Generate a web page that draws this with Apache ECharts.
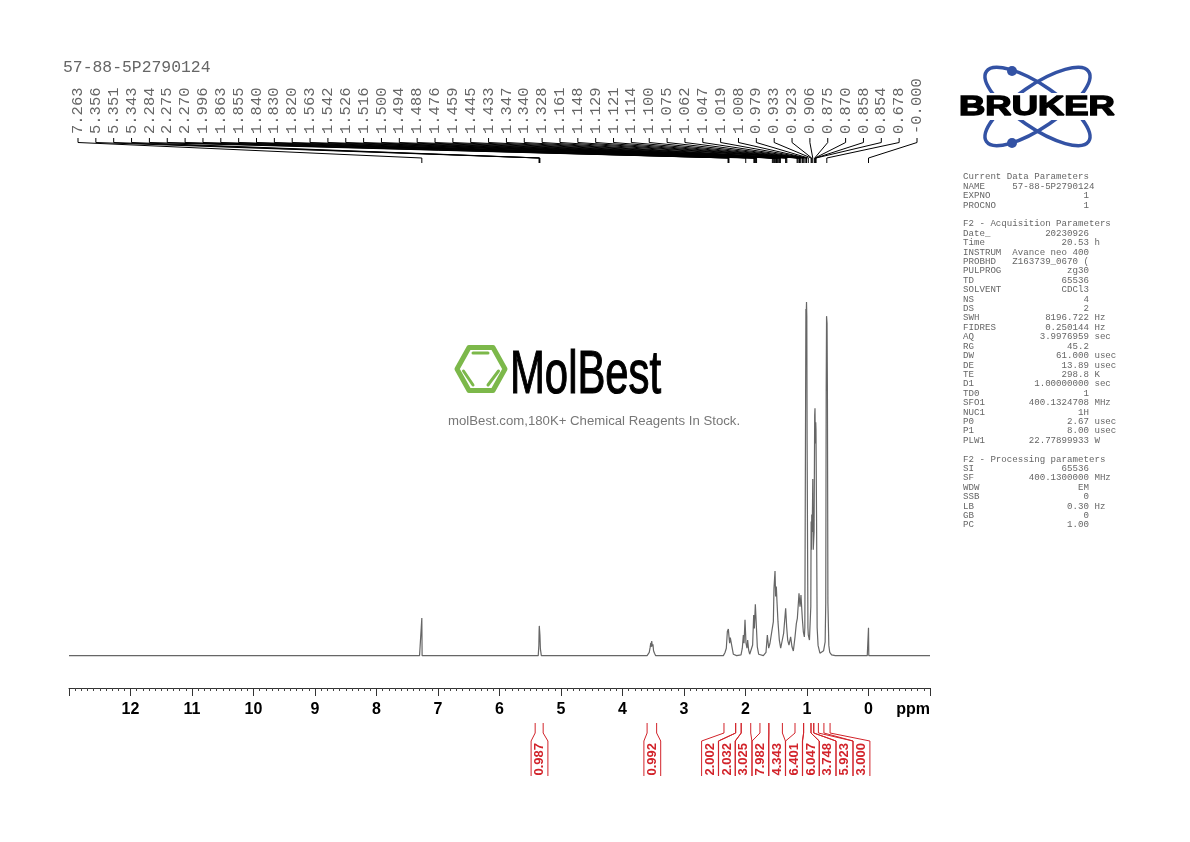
<!DOCTYPE html>
<html><head><meta charset="utf-8">
<style>html,body{margin:0;padding:0;background:#fff}#c{width:1190px;height:842px}</style>
<script src="https://cdn.jsdelivr.net/npm/echarts@6/dist/echarts.min.js"></script>
</head><body><div id="c"></div>
<script>
const specPpm = [13,7.3,7.27,7.263,7.258,5.37,5.36,5.356,5.353,5.351,5.347,5.343,5.335,5.32,3.6,3.58,3.565,3.55,3.54,3.53,3.525,3.515,3.505,3.495,3.48,3.46,2.496,2.36,2.333,2.312,2.295,2.279,2.268,2.258,2.247,2.23,2.22,2.198,2.144,2.073,2.052,2.035,2.024,2.008,1.992,1.976,1.965,1.949,1.932,1.905,1.884,1.867,1.856,1.84,1.824,1.808,1.786,1.71,1.667,1.645,1.623,1.602,1.569,1.547,1.537,1.52,1.51,1.499,1.488,1.472,1.45,1.428,1.412,1.38,1.347,1.331,1.314,1.293,1.266,1.244,1.222,1.195,1.173,1.157,1.13,1.114,1.098,1.076,1.06,1.043,1.035,1.025,1.018,1.013,1.008,1.003,0.998,0.985,0.979,0.96,0.945,0.938,0.933,0.928,0.923,0.915,0.906,0.898,0.885,0.875,0.87,0.864,0.858,0.854,0.845,0.835,0.82,0.79,0.76,0.73,0.705,0.695,0.688,0.682,0.678,0.674,0.668,0.66,0.645,0.63,0.6,0.54,0.525,0.51,0.02,0.005,0,-0.005,-1];
const specInt = [0.1,0.1,0.1,10.7,0.1,0.1,3,7,8.5,9,7,6,2,0.1,0.1,0.2,1,2.5,3.7,2.6,4.2,2.7,3.3,1.5,0.8,0.1,0.1,0.1,1,2.2,6.9,7.6,5.4,3.6,5.2,5,2.6,0.5,0.1,0.3,2.2,5.9,3.6,10.2,3.6,2.2,4.5,1.7,0.5,1,3.1,11.6,7.8,14.6,8.7,2.6,0.5,0.1,1,5.9,2.2,3.6,7.3,9.7,19.1,24,16.8,19.6,15.3,9.7,4.5,2.2,3.6,6.4,13.5,8.3,4.5,3.1,5.4,2.6,1.4,5.4,9.2,10.6,17.7,13.9,17.2,10.6,6.9,5.4,8,60,98,96,100,96,60,8,6,4.5,4.5,14,38,30,40,35,50,30,35,68,70,60,66,64,40,8,3,0.8,0.8,1.5,4,15,75,96,96,94,75,15,3,1,0.3,0.1,0.6,0.1,0.1,0.1,8,0.1,0.1];
const peakLabels = ["7.263","5.356","5.351","5.343","2.284","2.275","2.270","1.996","1.863","1.855","1.840","1.830","1.820","1.563","1.542","1.526","1.516","1.500","1.494","1.488","1.476","1.459","1.445","1.433","1.347","1.340","1.328","1.161","1.148","1.129","1.121","1.114","1.100","1.075","1.062","1.047","1.019","1.008","0.979","0.933","0.923","0.906","0.875","0.870","0.858","0.854","0.678","-0.000"];
const integralValues = ["0.987","0.992","2.002","2.032","3.025","7.982","4.343","6.401","6.047","3.748","5.923","3.000"];
const integralStart = [5.42,3.60,2.35,2.16,2.07,1.765,1.62,1.195,1.055,0.935,0.89,0.725];
const integralEnd = [5.29,3.445,2.16,2.07,1.915,1.62,1.40,1.055,0.935,0.89,0.815,0.625];
const integralSlot = [539.5,652.3,710,727,743.5,760.5,777,794,811,827.5,844.5,861.5];
const paramBlocks = [
 ["Current Data Parameters"],
 ["NAME","57-88-5P2790124",""],["EXPNO","1",""],["PROCNO","1",""],
 null,
 ["F2 - Acquisition Parameters"],
 ["Date_","20230926",""],["Time","20.53","h"],["INSTRUM","Avance neo 400",""],["PROBHD","Z163739_0670 (",""],["PULPROG","zg30",""],["TD","65536",""],["SOLVENT","CDCl3",""],["NS","4",""],["DS","2",""],["SWH","8196.722","Hz"],["FIDRES","0.250144","Hz"],["AQ","3.9976959","sec"],["RG","45.2",""],["DW","61.000","usec"],["DE","13.89","usec"],["TE","298.8","K"],["D1","1.00000000","sec"],["TD0","1",""],["SFO1","400.1324708","MHz"],["NUC1","1H",""],["P0","2.67","usec"],["P1","8.00","usec"],["PLW1","22.77899933","W"],
 null,
 ["F2 - Processing parameters"],
 ["SI","65536",""],["SF","400.1300000","MHz"],["WDW","EM",""],["SSB","0",""],["LB","0.30","Hz"],["GB","0",""],["PC","1.00",""]
];

const MONO = '"Liberation Mono", monospace';
const SANS = '"Liberation Sans", Arial, sans-serif';
const RED = '#d2232a', BLUE = '#3352a4', GREEN = '#7cb84a';

const gfx = [];
paramBlocks.forEach((r,i)=>{
  if(!r) return;
  let s;
  if(r.length===1) s=r[0];
  else { const nameCol=(r[0]+' '.repeat(9)).slice(0,9);
    const width = r[1].length>14 ? 24 : 23;
    s = nameCol + r[1].padStart(width-9,' ') + (r[2]?' '+r[2]:''); }
  gfx.push({type:'text',x:963,y:177+i*9.405,silent:true,style:{text:s,font:'9.15px '+MONO,fill:'#666',align:'left',verticalAlign:'middle'}});
});
// Bruker logo
const lc=[1037.5,106.5];
[-0.602,0.602].forEach(rot=>gfx.push({type:'ellipse',shape:{cx:lc[0],cy:lc[1],rx:62,ry:21},originX:lc[0],originY:lc[1],rotation:rot,silent:true,style:{fill:null,stroke:BLUE,lineWidth:3.5}}));
gfx.push({type:'rect',shape:{x:955,y:93,width:165,height:27},silent:true,style:{fill:'#fff'}});
gfx.push({type:'circle',shape:{cx:1012,cy:71,r:5},silent:true,style:{fill:BLUE}});
gfx.push({type:'circle',shape:{cx:1012,cy:143,r:5},silent:true,style:{fill:BLUE}});
gfx.push({type:'text',x:959,y:108,scaleX:1.35,silent:true,style:{text:'BRUKER',font:'bold 27px '+SANS,fill:'#000',stroke:'#000',lineWidth:1.4,align:'left',verticalAlign:'middle'}});
// MolBest logo
gfx.push({type:'polygon',shape:{points:[[457,369],[469,347.5],[493,347.5],[505,369],[493,390.5],[469,390.5]]},silent:true,style:{fill:null,stroke:GREEN,lineWidth:5,lineJoin:'round'}});
[[473,353,488,353],[463.5,371,473,385],[488,385,498.5,371]].forEach(l=>gfx.push({type:'line',shape:{x1:l[0],y1:l[1],x2:l[2],y2:l[3]},silent:true,style:{stroke:GREEN,lineWidth:3,lineCap:'round'}}));
gfx.push({type:'text',x:510,y:376,scaleX:0.675,silent:true,style:{text:'MolBest',font:'62px '+SANS,fill:'#000',stroke:'#000',lineWidth:1.2,align:'left',verticalAlign:'middle'}});
gfx.push({type:'text',x:448,y:421,silent:true,style:{text:'molBest.com,180K+ Chemical Reagents In Stock.',font:'13.2px '+SANS,fill:'#777',align:'left',verticalAlign:'middle'}});

const peakIdx = peakLabels.map((t,i)=>[Number(t),0,i]);
const intIdx = integralValues.map((t,i)=>[integralStart[i],0,i]);

const chart = echarts.init(document.getElementById('c'),null,{renderer:'canvas'});
chart.setOption({
  animation:false, backgroundColor:'#fff',
  title:{text:'57-88-5P2790124',left:63,top:60,padding:0,textStyle:{fontFamily:MONO,fontSize:16.4,fontWeight:'normal',color:'#666'}},
  grid:{left:69,width:861,top:302,height:354},
  xAxis:{type:'value',inverse:true,min:-1,max:13,interval:1,offset:32,
    name:'ppm',nameLocation:'start',nameGap:0,
    nameTextStyle:{fontFamily:SANS,fontSize:16,fontWeight:'bold',color:'#000',align:'right',verticalAlign:'top',padding:[14,0,0,0]},
    axisLine:{show:true,onZero:false,lineStyle:{color:'#333',width:1}},
    axisTick:{show:true,length:8,lineStyle:{color:'#333',width:1}},
    minorTick:{show:true,splitNumber:10,length:3,lineStyle:{color:'#444',width:1}},
    axisLabel:{show:true,margin:14,fontFamily:SANS,fontSize:16,fontWeight:'bold',color:'#000',showMinLabel:false,showMaxLabel:false},
    splitLine:{show:false}},
  yAxis:{type:'value',min:0,max:100,show:false},
  graphic:{elements:gfx},
  series:[
    {type:'line',silent:true,showSymbol:false,symbol:'none',clip:false,data:specPpm.map((p,i)=>[p,specInt[i]]),lineStyle:{color:'#666',width:1.2}},
    {type:'custom',silent:true,clip:false,data:peakIdx,encode:{x:0,y:1},
      renderItem(params,api){
        const i=api.value(2), px=api.coord([api.value(0),0])[0], lx=78+i*(839/47);
        return {type:'group',children:[
          {type:'polyline',shape:{points:[[lx,138],[lx,142.5],[px,158],[px,163]]},style:{fill:null,stroke:'#000',lineWidth:1}},
          {type:'text',x:lx,y:134,rotation:Math.PI/2,style:{text:peakLabels[i],font:'15.5px '+MONO,fill:'#666',align:'left',verticalAlign:'middle'}}
        ]};
      }},
    {type:'custom',silent:true,clip:false,data:intIdx,encode:{x:0,y:1},
      renderItem(params,api){
        const i=api.value(2);
        const a=api.coord([integralStart[i],0])[0], b=api.coord([integralEnd[i],0])[0], c=integralSlot[i];
        const st={fill:null,stroke:RED,lineWidth:1};
        return {type:'group',children:[
          {type:'polyline',shape:{points:[[a,723],[a,733],[c-8.4,741],[c-8.4,776]]},style:st},
          {type:'polyline',shape:{points:[[b,723],[b,733],[c+8.4,741],[c+8.4,776]]},style:st},
          {type:'text',x:c,y:775.5,rotation:Math.PI/2,style:{text:integralValues[i],font:'bold 13px '+SANS,fill:RED,align:'left',verticalAlign:'middle'}}
        ]};
      }}
  ]
});
</script></body></html>
